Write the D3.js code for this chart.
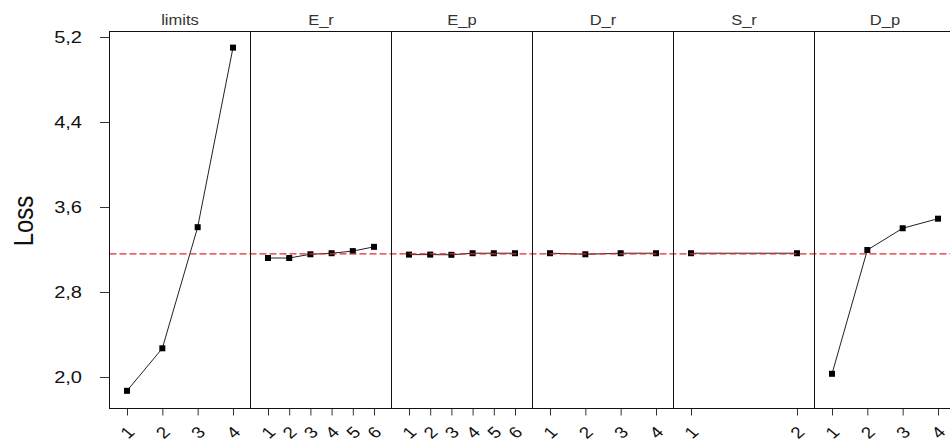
<!DOCTYPE html>
<html>
<head>
<meta charset="utf-8">
<script src="https://cdn.jsdelivr.net/npm/d3@7"></script>
<style>
  html, body { margin: 0; padding: 0; background: #fff; }
  svg { display: block; font-family: "Liberation Sans", Arial, sans-serif; }
</style>
</head>
<body>
<svg id="chart" width="950" height="444"></svg>
<script>
// Factor panels, in drawing order
const factors = ["limits", "E_r", "E_p", "D_r", "S_r", "D_p"];

// Mean loss per factor level
const limitsLoss = [1.87, 2.27, 3.41, 5.10];
const erLoss = [3.12, 3.12, 3.155, 3.165, 3.185, 3.225];
const epLoss = [3.152, 3.152, 3.150, 3.165, 3.165, 3.165];
const drLoss = [3.165, 3.155, 3.165, 3.165];
const srLoss = [3.165, 3.165];
const dpLoss = [2.03, 3.195, 3.40, 3.49];

// Grand mean reference line
const grandMean = 3.158;

// Y axis ticks
const yTicks = [2.0, 2.8, 3.6, 4.4, 5.2];
const yLabel = "Loss";

const series = [limitsLoss, erLoss, epLoss, drLoss, srLoss, dpLoss];

const svg = d3.select("#chart");
const plotLeft = 109.5, plotTop = 31.5, plotBottom = 408.5, panelW = 141, pad = 17.5;
// Text is drawn slightly wider than tall
const stretch = 1.18;

const y = d3.scaleLinear()
  .domain([1.7035, 5.2518])
  .range([plotBottom, plotTop]);

const locale = d3.formatLocale({ decimal: ",", thousands: ".", grouping: [3], currency: ["", ""] });
const fmt = locale.format(".1f");

// Y axis
const yAxis = svg.append("g")
  .attr("transform", `translate(${plotLeft},0)`)
  .call(d3.axisLeft(y).tickValues(yTicks).tickSize(9.5).tickFormat(fmt));
yAxis.select(".domain").remove();
yAxis.selectAll(".tick line").attr("stroke", "#333");
yAxis.selectAll(".tick text")
  .attr("x", 0)
  .attr("font-size", 17)
  .attr("fill", "#111")
  .attr("text-anchor", "end")
  .attr("transform", `translate(-27.5,0) scale(${stretch},1)`);

svg.append("text")
  .attr("transform", `translate(23,221) scale(${stretch},1) rotate(-90)`)
  .attr("text-anchor", "middle")
  .attr("dominant-baseline", "central")
  .attr("font-size", 24)
  .attr("fill", "#111")
  .text(yLabel);

const totalRight = plotLeft + panelW * factors.length;

factors.forEach((name, i) => {
  const values = series[i];
  const x0 = plotLeft + i * panelW;
  const levels = d3.range(1, values.length + 1);
  const x = d3.scaleLinear()
    .domain([1, values.length])
    .range([x0 + pad, x0 + panelW - pad]);

  const g = svg.append("g");

  // Strip label
  g.append("text")
    .attr("transform", `translate(${x0 + panelW / 2},25) scale(${stretch},1)`)
    .attr("text-anchor", "middle")
    .attr("font-size", 14)
    .attr("fill", "#333")
    .text(name);

  // Bottom axis with rotated level labels
  const xAxis = g.append("g")
    .attr("transform", `translate(0,${plotBottom})`)
    .call(d3.axisBottom(x).tickValues(levels).tickSize(7).tickFormat(d3.format("d")));
  xAxis.select(".domain").remove();
  xAxis.selectAll(".tick line").attr("stroke", "#333");
  xAxis.selectAll(".tick text")
    .attr("y", 0)
    .attr("dy", 0)
    .attr("font-size", 16)
    .attr("fill", "#111")
    .attr("text-anchor", "middle")
    .attr("dominant-baseline", "central")
    .attr("transform", `translate(0,24) scale(${stretch},1) rotate(-45)`);

  // Connecting line
  g.append("path")
    .datum(values)
    .attr("fill", "none")
    .attr("stroke", "#222")
    .attr("stroke-width", 1)
    .attr("d", d3.line().x((d, j) => x(j + 1)).y(d => y(d)));

  g.append("g").attr("class", "pts")
    .selectAll("rect")
    .data(values)
    .join("rect")
    .attr("x", (d, j) => x(j + 1) - 3)
    .attr("y", d => y(d) - 3)
    .attr("width", 6)
    .attr("height", 6)
    .attr("fill", "#000");
});

// Grand mean dashed line
svg.append("line")
  .attr("x1", plotLeft).attr("x2", totalRight)
  .attr("y1", y(grandMean)).attr("y2", y(grandMean))
  .attr("stroke", "#e02a2a")
  .attr("stroke-width", 1.2)
  .attr("stroke-dasharray", "7,3");

// Panel frames
factors.forEach((name, i) => {
  svg.append("rect")
    .attr("x", plotLeft + i * panelW)
    .attr("y", plotTop)
    .attr("width", panelW)
    .attr("height", plotBottom - plotTop)
    .attr("fill", "none")
    .attr("stroke", "#111")
    .attr("stroke-width", 1);
});
</script>
</body>
</html>
